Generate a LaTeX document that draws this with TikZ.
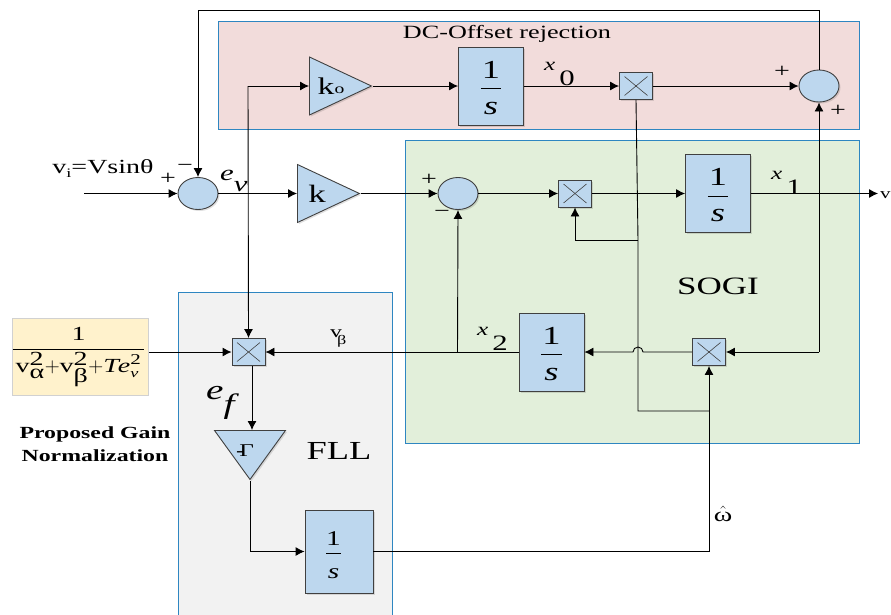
\documentclass[tikz,border=0pt]{standalone}
\usepackage{amsmath}
\usepackage{fontspec}
\setmainfont[FakeStretch=1.4]{Liberation Serif}
\usetikzlibrary{shapes,positioning,calc,arrows.meta,shadows}

\definecolor{blockblue}{HTML}{BDD7EE}
\definecolor{panelblue}{HTML}{2E86C1}
\definecolor{dcpink}{HTML}{F2DCDB}
\definecolor{sogigreen}{HTML}{E2EFDA}
\definecolor{fllgray}{HTML}{F2F2F2}
\definecolor{normyellow}{HTML}{FFF2CC}
\tikzset{
    panel/.style={draw=panelblue, line width=1.3pt, anchor=north west, inner sep=0pt},
    block/.style={draw=black!75, fill=blockblue, line width=0.9pt, inner sep=0pt, drop shadow={shadow xshift=1.5pt, shadow yshift=-1.5pt, fill=black, opacity=0.12}},
    intblock/.style={block, rectangle, minimum width=65pt, minimum height=78pt},
    mulblock/.style={block, rectangle, minimum width=33pt, minimum height=27pt,
        path picture={\draw[line width=0.6pt] ([shift={(5pt,-4pt)}]path picture bounding box.north west) -- ([shift={(-5pt,4pt)}]path picture bounding box.south east);
        \draw[line width=0.6pt] ([shift={(-5pt,-4pt)}]path picture bounding box.north east) -- ([shift={(5pt,4pt)}]path picture bounding box.south west);}},
    sumblock/.style={block, ellipse, minimum width=40pt, minimum height=32pt},
    gainblock/.style={block, isosceles triangle, isosceles triangle stretches=true, minimum height=62pt, minimum width=58pt},
    conn/.style={line width=0.9pt},
    arr/.style={conn, -{Latex[length=9pt,width=9pt]}},
    sign/.style={inner sep=0pt, font=\fontsize{20}{20}\selectfont},
    lbl/.style={inner sep=0pt, anchor=base west}
}
\newcommand{\oneovers}[2]{\fontsize{#1}{#1}\selectfont$\displaystyle\frac{\rule[-3pt]{0pt}{24pt}\text{1}}{\rule{0pt}{22pt}\hspace{#2}\text{\itshape s}\hspace{#2}}$}
\newcommand{\bigsym}[1]{\text{\fontsize{20}{20}\selectfont #1}}
\newcommand{\vterm}[1]{\bigsym{v}^{\bigsym{2}}_{\bigsym{#1}}}
\newcommand{\xstate}[1]{\fontsize{18}{18}\selectfont\itshape x\hspace{4pt}\raisebox{-15.5pt}{\fontsize{22}{22}\selectfont\upshape #1}}

\begin{document}
\begin{tikzpicture}[x=1pt,y=-1pt]
    \useasboundingbox (0,0) rectangle (891,614);

    % Shaded regions
    \node[panel, fill=dcpink, minimum width=641pt, minimum height=108pt] (dcpanel) at (218,21) {};
    \node[panel, fill=sogigreen, minimum width=454pt, minimum height=303pt] (sogipanel) at (405,140) {};
    \node[panel, fill=fllgray, minimum width=214pt, minimum height=330pt] (fllpanel) at (178,292) {};
    \node[draw=black!18, fill=normyellow, line width=1pt, anchor=north west, inner sep=0pt, minimum width=136pt, minimum height=77pt] (normbox) at (12,318) {};
    \node[inner sep=0pt, font=\fontsize{20}{20}\selectfont] (normfrac) at ([xshift=-2pt]normbox.center) {$\displaystyle\frac{\text{1}}{\hspace{3pt}\vterm{α}{+}\vterm{β}{+}\text{\itshape T\kern-1pt e}^{\text{\fontsize{15}{15}\selectfont 2}}_{\text{\fontsize{13}{13}\selectfont\itshape v}}\hspace{3pt}}$};

    % Blocks
    \node[sumblock] (sumin) at (198,193.5) {};
    \node[gainblock, anchor=lower side] (gaink0) at (309,86) {};
    \node[gainblock, anchor=lower side] (gaink) at (297,193.5) {};
    \node[inner sep=0pt, font=\fontsize{24}{24}\selectfont] (textk0) at (331,86) {k\fontsize{14}{14}\selectfont\raisebox{1pt}{o}};
    \node[inner sep=0pt, font=\fontsize{25}{25}\selectfont] (textk) at (317,194) {k};
    \node[intblock] (intd) at (491,86) {\oneovers{26}{3pt}};
    \node[mulblock] (muld) at (636,86) {};
    \node[sumblock] (sumd) at (819,86) {};
    \node[sumblock] (sums) at (458,193.5) {};
    \node[mulblock] (muls) at (575,193.5) {};
    \node[intblock] (intx) at (718,193.5) {\oneovers{26}{3pt}};
    \node[mulblock] (mulb) at (709,352) {};
    \node[intblock] (inty) at (551.5,352) {\oneovers{26}{3pt}};
    \node[mulblock] (mulf) at (248.5,352) {};
    \node[block, isosceles triangle, isosceles triangle stretches=true, shape border rotate=270, minimum height=49pt, minimum width=71pt, anchor=lower side] (gainf) at (250,430) {};
    \node[font=\fontsize{18}{18}\selectfont, inner sep=0pt] (textf) at (245,451) {-\kern-5ptΓ};
    \node[intblock, minimum width=68pt, minimum height=83pt] (intf) at (339,551.5) {\hspace*{-11pt}\oneovers{21}{0pt}};

    % Free ends and bends
    \coordinate (vin) at (84,193.5);
    \coordinate (vout) at (878,193.5);
    \coordinate (evtop) at (248,86);
    \coordinate (topr) at (819,10);
    \coordinate (topl) at (198,10);
    \coordinate (xback) at (819,352);
    \coordinate (vb) at (457.5,352);
    \coordinate (bra) at (638,240);
    \coordinate (brb) at (638,411);
    \coordinate (brc) at (709,411);
    \coordinate (jumpr) at (643,352);
    \coordinate (efb) at (252,366);
    \coordinate (eft) at (252,430);
    \coordinate (gamb) at (250,551.5);
    \coordinate (wcor) at (709,551.5);

    % Upper path
    \draw[arr] (vin) -- (sumin.west);
    \draw[arr] (sumd.north) -- (topr) -- (topl) -- (sumin.north);
    \draw[arr] (sumin.east) -- (gaink.lower side);
    \draw[arr] (evtop) -- (gaink0.lower side);
    \draw[arr] (evtop) -- (mulf.north);
    \draw[arr] (gaink0.apex) -- (intd.west);
    \draw[arr] (intd.east) -- (muld.west);
    \draw[arr] (muld.east) -- (sumd.west);

    % SOGI loop
    \draw[arr] (gaink.apex) -- (sums.west);
    \draw[arr] (sums.east) -- (muls.west);
    \draw[arr] (muls.east) -- (intx.west);
    \draw[arr] (intx.east) -- (vout);
    \draw[arr] (xback) -- (sumd.south);
    \draw[arr] (xback) -- (mulb.east);
    \draw[arr] (mulb.west) -- (jumpr) arc[start angle=0, end angle=180, radius=5pt] -- (inty.east);
    \draw[conn] (inty.west) -- (vb);
    \draw[arr] (vb) -- (sums.south);
    \draw[arr] (vb) -- (mulf.east);

    % Frequency path
    \draw[conn] (muld.south) -- (bra) -- (brb) -- (brc);
    \draw[arr] (bra) -| (muls.south);
    \draw[arr] (normbox.east |- mulf.west) -- (mulf.west);
    \draw[arr] (efb) -- (eft);
    \draw[conn] (gainf.apex) -- (gamb);
    \draw[arr] (gamb) -- (intf.west);
    \draw[arr] (intf.east) -- (wcor) -- (mulb.south);

    % Labels
    \node[inner sep=0pt, font=\fontsize{18.7}{18.7}\selectfont] (dclabel) at (507,34) {DC-Offset rejection};
    \node[inner sep=0pt, font=\fontsize{25}{25}\selectfont] (sogilabel) at (718,286) {SOGI};
    \node[inner sep=0pt, font=\fontsize{26}{26}\selectfont] (flllabel) at (339,451) {FLL};
    \node[inner sep=0pt, align=center, font=\fontsize{17}{23}\selectfont\bfseries] (normlabel) at (95,444) {Proposed Gain\\Normalization};
    \node[inner sep=0pt, font=\fontsize{20}{20}\selectfont] (vilabel) at (103,169) {v\raisebox{-4pt}{\fontsize{13}{13}\selectfont i}=Vsinθ};
    \node[sign] (plusa) at (168,179) {+};
    \node[sign] (minusa) at (185,168) {−};
    \node[sign] (plusb) at (782,72) {+};
    \node[sign] (plusc) at (838,111) {+};
    \node[sign] (plusd) at (429,180) {+};
    \node[sign] (minusb) at (442,214) {−};
    \node[lbl, font=\fontsize{22}{22}\selectfont\itshape] (evlabel) at (220,180) {e\raisebox{-11pt}{v}};
    \node[lbl, font=\fontsize{28}{28}\selectfont\itshape] (eflabel) at (206,399) {e\raisebox{-14pt}{f}};
    \node[lbl] (xzero) at (544,70) {\xstate{0}};
    \node[lbl] (xone) at (771,179) {\xstate{1}};
    \node[lbl] (xtwo) at (477,335) {\xstate{2}};
    \node[lbl] (voutlabel) at (880,198) {\fontsize{15}{15}\selectfont v\raisebox{-4pt}{\fontsize{12}{12}\selectfont o}};
    \node[lbl] (vblabel) at (330,337) {\fontsize{17}{17}\selectfont v\kern-5pt\raisebox{-7pt}{\fontsize{13}{13}\selectfont β}};
    \node[inner sep=0pt, font=\fontsize{20}{20}\selectfont] (wlabel) at (723,514) {$\hat{\text{ω}}$};
\end{tikzpicture}
\end{document}
